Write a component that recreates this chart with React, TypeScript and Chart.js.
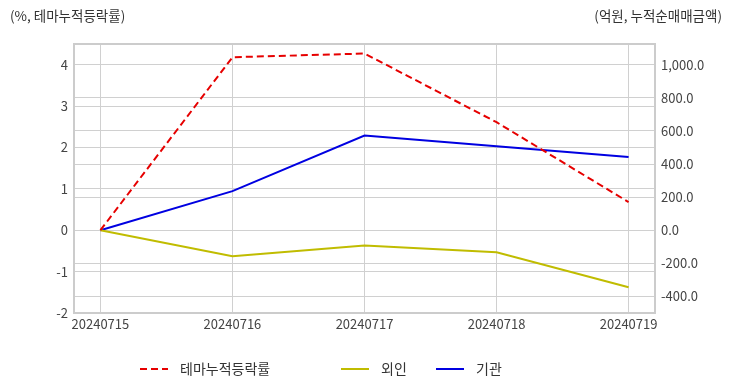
import React, { useEffect, useRef } from 'react';
import { Chart, registerables } from 'chart.js';

Chart.register(...registerables);

const categories = ['20240715', '20240716', '20240717', '20240718', '20240719'];
const themeReturn = [0, 4.18, 4.27, 2.61, 0.68];
const foreignNet = [0, -157, -93, -133, -344];
const institutionNet = [0, 236, 572, 507, 443];
const seriesNames = ['테마누적등락률', '외인', '기관'];
const leftTitle = '(%, 테마누적등락률)';
const rightTitle = '(억원, 누적순매매금액)';
const leftTicks = [-2, -1, 0, 1, 2, 3, 4];
const rightTicks = [-400, -200, 0, 200, 400, 600, 800, 1000];

const FONT = "'Noto Sans CJK KR', 'Noto Sans', sans-serif";
const GRID = '#d0d0d0';
const TEXT = '#444444';

const legendX = [140, 341, 436];

const decorPlugin = {
  id: 'decor',
  beforeDatasetsDraw(chart: any) {
    const { ctx, chartArea } = chart;
    ctx.save();
    ctx.strokeStyle = '#cccccc';
    ctx.lineWidth = 2;
    ctx.strokeRect(chartArea.left, chartArea.top, chartArea.right - chartArea.left, chartArea.bottom - chartArea.top);
    ctx.restore();
  },
  afterDraw(chart: any) {
    const { ctx } = chart;
    ctx.save();
    ctx.font = `13.5px ${FONT}`;
    ctx.fillStyle = '#333333';
    ctx.textBaseline = 'middle';
    ctx.textAlign = 'left';
    ctx.fillText(leftTitle, 10, 16);
    ctx.textAlign = 'right';
    ctx.fillText(rightTitle, 722, 16);

    ctx.font = `14px ${FONT}`;
    ctx.textAlign = 'left';
    chart.data.datasets.forEach((ds: any, i: number) => {
      const x = legendX[i];
      const y = 369;
      ctx.save();
      ctx.strokeStyle = ds.borderColor;
      ctx.lineWidth = 2;
      ctx.setLineDash(ds.borderDash || []);
      ctx.beginPath();
      ctx.moveTo(x, y);
      ctx.lineTo(x + 28, y);
      ctx.stroke();
      ctx.restore();
      ctx.fillStyle = '#333333';
      ctx.fillText(ds.label, x + 40, y);
    });
    ctx.restore();
  },
};

export default function App() {
  const canvasRef = useRef<HTMLCanvasElement | null>(null);

  useEffect(() => {
    document.body.style.margin = '0';
    const canvas = canvasRef.current;
    if (!canvas) return;
    Chart.defaults.font.family = FONT;
    const toXY = (arr: number[]) => arr.map((v, i) => ({ x: i, y: v }));
    const chart = new Chart(canvas, {
      type: 'line',
      data: {
        datasets: [
          {
            label: seriesNames[0],
            data: toXY(themeReturn),
            yAxisID: 'yL',
            borderColor: 'rgb(230,0,0)',
            borderDash: [7, 4],
            borderWidth: 2,
            pointRadius: 0,
            tension: 0,
          },
          {
            label: seriesNames[1],
            data: toXY(foreignNet),
            yAxisID: 'yR',
            borderColor: 'rgb(192,188,0)',
            borderWidth: 2,
            pointRadius: 0,
            tension: 0,
          },
          {
            label: seriesNames[2],
            data: toXY(institutionNet),
            yAxisID: 'yR',
            borderColor: 'rgb(0,0,225)',
            borderWidth: 2,
            pointRadius: 0,
            tension: 0,
          },
        ],
      },
      options: {
        responsive: false,
        animation: false,
        layout: { padding: { top: 44, left: 0, right: 0, bottom: 0 } },
        plugins: {
          legend: { display: false },
          tooltip: { enabled: false },
        },
        scales: {
          x: {
            type: 'linear',
            min: -0.2,
            max: 4.2,
            afterBuildTicks: (scale: any) => {
              scale.ticks = categories.map((_, i) => ({ value: i }));
            },
            afterFit: (scale: any) => {
              scale.height = 79;
            },
            grid: { color: GRID, drawTicks: false },
            border: { display: false },
            ticks: {
              autoSkip: false,
              maxRotation: 0,
              padding: 3,
              color: TEXT,
              font: { size: 13, family: FONT },
              callback: (v: any) => categories[v] ?? '',
            },
          },
          yL: {
            type: 'linear',
            position: 'left',
            min: -2,
            max: 4.5,
            afterBuildTicks: (scale: any) => {
              scale.ticks = leftTicks.map((v) => ({ value: v }));
            },
            afterFit: (scale: any) => {
              scale.width = 74;
            },
            grid: { color: GRID, drawTicks: false },
            border: { display: false },
            ticks: {
              padding: 6,
              color: TEXT,
              font: { size: 13, family: FONT },
              callback: (v: any) => String(v),
            },
          },
          yR: {
            type: 'linear',
            position: 'right',
            min: -500,
            max: 1125,
            afterBuildTicks: (scale: any) => {
              scale.ticks = rightTicks.map((v) => ({ value: v }));
            },
            afterFit: (scale: any) => {
              scale.width = 77;
            },
            grid: { color: GRID, drawTicks: false },
            border: { display: false },
            ticks: {
              padding: 6,
              color: TEXT,
              font: { size: 13, family: FONT },
              callback: (v: any) =>
                Number(v).toLocaleString('en-US', { minimumFractionDigits: 1, maximumFractionDigits: 1 }),
            },
          },
        },
      },
      plugins: [decorPlugin],
    } as any);
    return () => chart.destroy();
  }, []);

  return (
    <div style={{ width: 732, height: 392 }}>
      <canvas ref={canvasRef} width={732} height={392} />
    </div>
  );
}
